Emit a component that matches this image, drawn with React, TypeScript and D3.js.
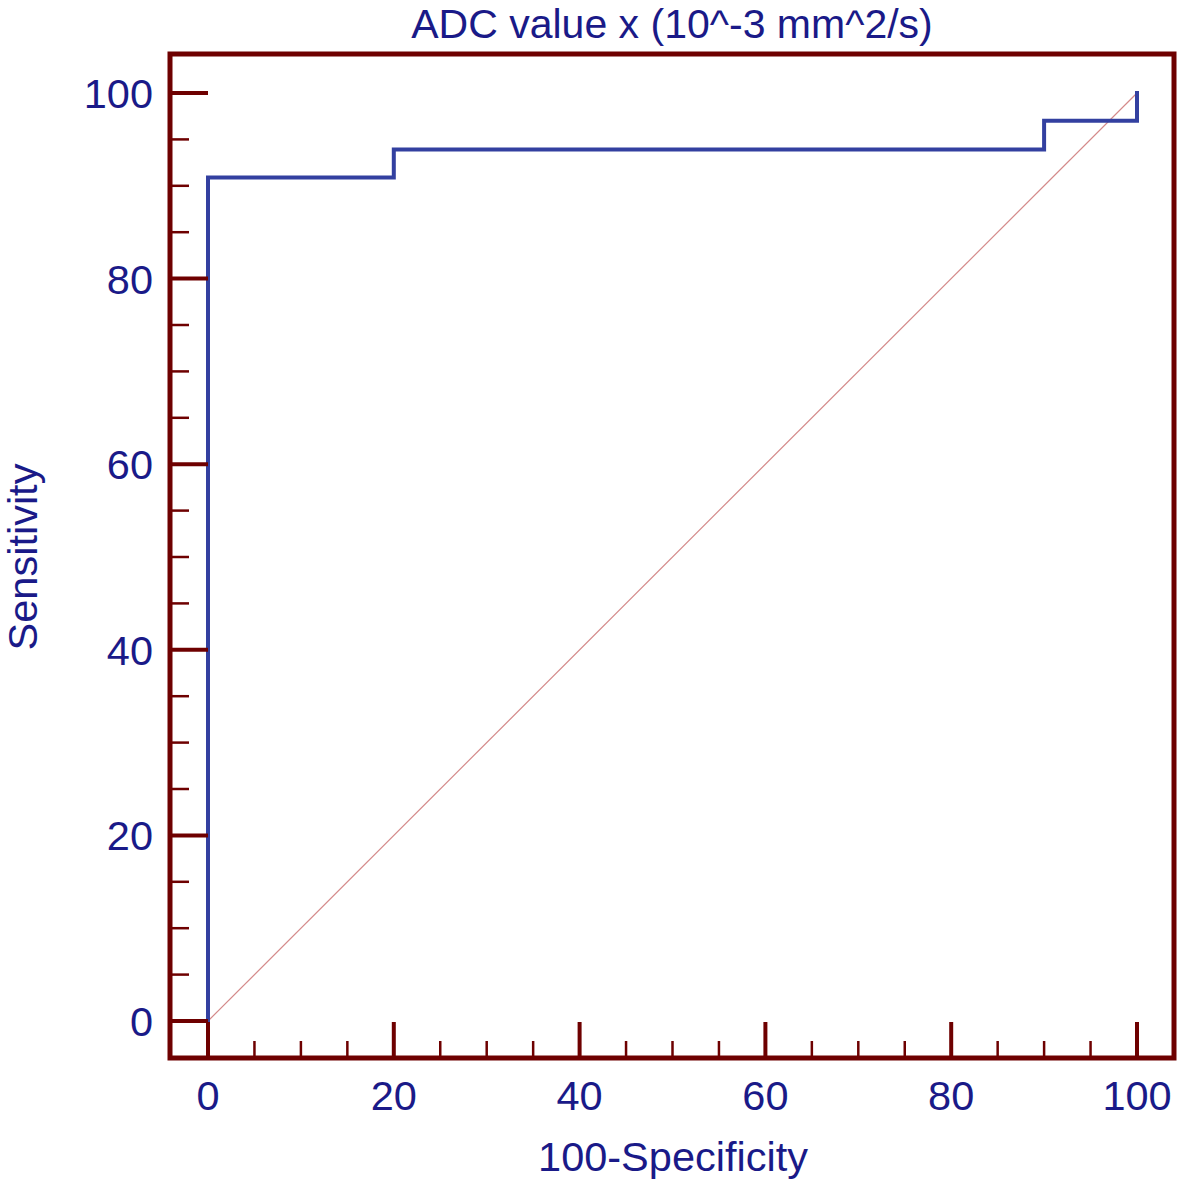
import React, { useRef, useEffect } from 'react';
import * as d3 from 'd3';

// ROC curve points (100-Specificity, Sensitivity)
const fpr = [0, 0, 20, 90, 100];
const tpr = [0, 90.9, 93.9, 97.0, 100];

const majorTicks = [0, 20, 40, 60, 80, 100];
const minorTicks = [5, 10, 15, 25, 30, 35, 45, 50, 55, 65, 70, 75, 85, 90, 95];

const title = 'ADC value x (10^-3 mm^2/s)';
const xLabel = '100-Specificity';
const yLabel = 'Sensitivity';

const W = 1181;
const H = 1183;

const frameColor = '#6e0000';
const textColor = '#1a1a88';
const curveColor = '#3340a0';
const diagColor = '#d48a8a';
const font = '"Liberation Sans", Arial, sans-serif';
const fontSize = 41.5;

const App: React.FC = () => {
  const svgRef = useRef<SVGSVGElement | null>(null);

  useEffect(() => {
    document.body.style.margin = '0';
    if (!svgRef.current) return;
    const svg = d3.select(svgRef.current);
    svg.selectAll('*').remove();

    const x = d3.scaleLinear().domain([0, 100]).range([208, 1137]);
    const y = d3.scaleLinear().domain([0, 100]).range([1021, 93]);

    const frame = { left: 170, top: 54, right: 1174, bottom: 1058 };

    // diagonal reference line
    svg.append('line')
      .attr('x1', x(0)).attr('y1', y(0))
      .attr('x2', x(100)).attr('y2', y(100))
      .attr('stroke', diagColor)
      .attr('stroke-width', 1.2);

    // ROC curve
    const pts = fpr.map((v, i) => [v, tpr[i]] as [number, number]);
    const line = d3.line<[number, number]>()
      .x(d => x(d[0]))
      .y(d => y(d[1]))
      .curve(d3.curveStepAfter);
    svg.append('path')
      .attr('d', line(pts) || '')
      .attr('fill', 'none')
      .attr('stroke', curveColor)
      .attr('stroke-width', 4)
      .attr('stroke-linejoin', 'miter')
      .attr('stroke-linecap', 'square');

    // left ticks
    svg.selectAll('.ymaj').data(majorTicks).enter().append('line')
      .attr('x1', frame.left).attr('x2', 208)
      .attr('y1', d => y(d)).attr('y2', d => y(d))
      .attr('stroke', frameColor).attr('stroke-width', 4);
    svg.selectAll('.ymin').data(minorTicks).enter().append('line')
      .attr('x1', frame.left).attr('x2', 189)
      .attr('y1', d => y(d)).attr('y2', d => y(d))
      .attr('stroke', frameColor).attr('stroke-width', 2.5);

    // bottom ticks
    svg.selectAll('.xmaj').data(majorTicks).enter().append('line')
      .attr('y1', frame.bottom).attr('y2', 1022)
      .attr('x1', d => x(d)).attr('x2', d => x(d))
      .attr('stroke', frameColor).attr('stroke-width', 4);
    svg.selectAll('.xmin').data(minorTicks).enter().append('line')
      .attr('y1', frame.bottom).attr('y2', 1041)
      .attr('x1', d => x(d)).attr('x2', d => x(d))
      .attr('stroke', frameColor).attr('stroke-width', 2.5);

    // frame
    svg.append('rect')
      .attr('x', frame.left).attr('y', frame.top)
      .attr('width', frame.right - frame.left)
      .attr('height', frame.bottom - frame.top)
      .attr('fill', 'none')
      .attr('stroke', frameColor)
      .attr('stroke-width', 5);

    // tick labels
    svg.selectAll('.ylab').data(majorTicks).enter().append('text')
      .attr('x', 153).attr('y', d => y(d))
      .attr('dy', '0.36em')
      .attr('text-anchor', 'end')
      .attr('font-family', font).attr('font-size', fontSize)
      .attr('fill', textColor)
      .text(d => String(d));
    svg.selectAll('.xlab').data(majorTicks).enter().append('text')
      .attr('x', d => x(d)).attr('y', 1110)
      .attr('text-anchor', 'middle')
      .attr('font-family', font).attr('font-size', fontSize)
      .attr('fill', textColor)
      .text(d => String(d));

    // titles
    svg.append('text')
      .attr('x', 672).attr('y', 37.5)
      .attr('text-anchor', 'middle')
      .attr('font-family', font).attr('font-size', 41)
      .attr('fill', textColor)
      .text(title);
    svg.append('text')
      .attr('x', 673).attr('y', 1171)
      .attr('text-anchor', 'middle')
      .attr('font-family', font).attr('font-size', fontSize)
      .attr('fill', textColor)
      .text(xLabel);
    svg.append('text')
      .attr('transform', `translate(37,557) rotate(-90)`)
      .attr('text-anchor', 'middle')
      .attr('font-family', font).attr('font-size', fontSize)
      .attr('fill', textColor)
      .text(yLabel);
  }, []);

  return <svg ref={svgRef} width={W} height={H} style={{ display: 'block', background: '#fff' }} />;
};

export default App;
